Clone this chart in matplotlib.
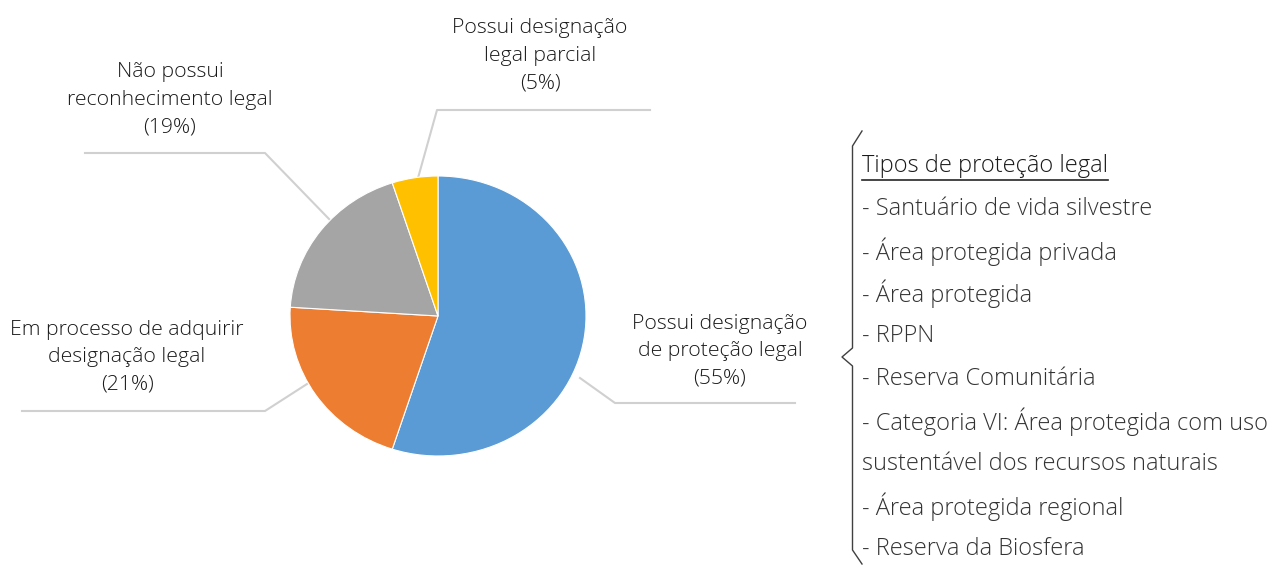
import matplotlib
matplotlib.use("Agg")
import matplotlib.pyplot as plt

# Situação legal das áreas
categorias = ["Possui designação\nde proteção legal", "Em processo de adquirir\ndesignação legal",
              "Não possui\nreconhecimento legal", "Possui designação\nlegal parcial"]
percentuais = [55, 21, 19, 5]
cores = ["#5B9BD5", "#ED7D31", "#A5A5A5", "#FFC000"]

titulo_lista = "Tipos de proteção legal"
tipos_protecao = ["- Santuário de vida silvestre", "- Área protegida privada", "- Área protegida",
                  "- RPPN", "- Reserva Comunitária",
                  "- Categoria VI: Área protegida com uso", "sustentável dos recursos naturais",
                  "- Área protegida regional", "- Reserva da Biosfera"]

W, H = 1276, 566
plt.rcParams['font.family'] = ['Open Sans', 'DejaVu Sans']
fig = plt.figure(figsize=(W / 100, H / 100), dpi=100)

# camada de fundo em coordenadas de pixel
bg = fig.add_axes([0, 0, 1, 1])
bg.set_xlim(0, W)
bg.set_ylim(H, 0)
bg.axis('off')

# pizza
cx, cy, rx, ry = 438, 316, 148, 140
ax = fig.add_axes([(cx - rx) / W, (H - cy - ry) / H, 2 * rx / W, 2 * ry / H])
ax.pie(percentuais, colors=cores, startangle=90, counterclock=False,
       wedgeprops=dict(edgecolor='white', linewidth=0.8))
ax.set_aspect('auto')
ax.set_xlim(-1, 1)
ax.set_ylim(-1, 1)
ax.axis('off')

# linhas de chamada
linha = dict(color='#D0D0D0', lw=1.5, zorder=0)
bg.plot([580, 615, 795], [378, 403, 403], **linha)
bg.plot([307, 265, 22], [384, 411, 411], **linha)
bg.plot([330, 265, 85], [220, 153, 153], **linha)
bg.plot([418, 437, 650], [178, 110, 110], **linha)

# rótulos
rotulos_xy = [(720, 351), (127, 357), (170, 100), (540, 56)]
for nome, p, (x, y) in zip(categorias, percentuais, rotulos_xy):
    bg.text(x, y, f"{nome}\n({p}%)", ha='center', va='center', fontsize=15.3,
            color='#1a1a1a', linespacing=1.5, fontweight='light')

# chave
bg.plot([862, 852.5, 852.5, 842, 852.5, 852.5, 862],
        [131, 146, 348, 357, 366, 550, 564], color='#404040', lw=1)

# lista de tipos
x0, y0, dy = 862, 166.5, 42.5
t = bg.text(x0, y0, titulo_lista, ha='left', va='center', fontsize=17,
            color='#1a1a1a', fontweight='light')
for i, item in enumerate(tipos_protecao):
    bg.text(x0, y0 + dy * (i + 1), item, ha='left', va='center', fontsize=17,
            color='#333333', fontweight='light')

fig.canvas.draw()
bb = t.get_window_extent().transformed(bg.transData.inverted())
bg.plot([bb.x0, bb.x1], [180, 180], color='#262626', lw=1.2)

fig.savefig("out.png", dpi=100)
